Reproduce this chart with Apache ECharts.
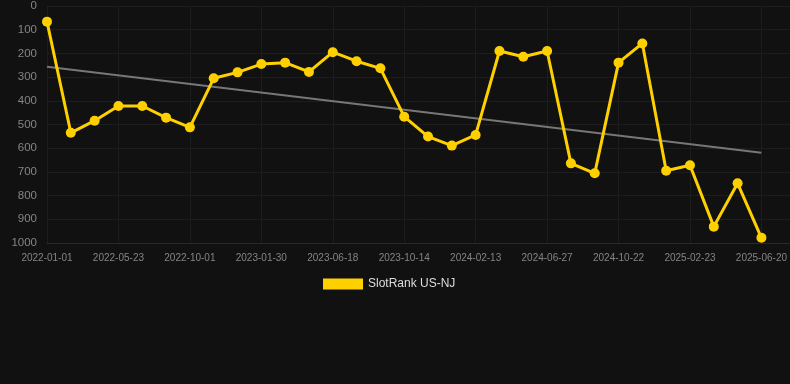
<!DOCTYPE html>
<html>
<head>
<meta charset="utf-8">
<script src="https://cdn.jsdelivr.net/npm/echarts@6/dist/echarts.min.js"></script>
<style>
html,body{margin:0;padding:0;background:#111111;}
#chart{width:790px;height:384px;}
</style>
</head>
<body>
<div id="chart"></div>
<script>
const dates = [
  '2022-01-01','2022-02-17','2022-04-06','2022-05-23','2022-07-06','2022-08-18',
  '2022-10-01','2022-11-10','2022-12-21','2023-01-30','2023-03-17','2023-05-03',
  '2023-06-18','2023-07-27','2023-09-04','2023-10-14','2023-11-24','2024-01-03',
  '2024-02-13','2024-03-29','2024-05-13','2024-06-27','2024-08-05','2024-09-13',
  '2024-10-22','2024-12-02','2025-01-13','2025-02-23','2025-04-03','2025-05-12',
  '2025-06-20'
];
const ranks = [
  66, 535, 484, 422, 422, 471, 512, 305, 280, 245, 239, 278, 195, 233, 263, 467,
  551, 589, 544, 190, 214, 190, 664, 706, 239, 158, 695, 672, 931, 748, 978
];
const trendStart = 256;
const trendEnd = 619;
const seriesName = 'SlotRank US-NJ';

const chart = echarts.init(document.getElementById('chart'), null, {renderer: 'canvas'});
const lastIdx = dates.length - 1;
chart.setOption({
  backgroundColor: '#111111',
  animation: false,
  grid: {left: 47, right: 0, top: 6, bottom: 141},
  legend: {
    data: [{name: seriesName, icon: 'rect'}],
    left: 318, top: 273,
    itemWidth: 40, itemHeight: 11, itemGap: 10,
    textStyle: {color: '#dddddd', fontSize: 12, fontFamily: 'Liberation Sans, Arial, sans-serif'}
  },
  xAxis: {
    type: 'value',
    min: 0,
    max: 31.2,
    interval: 3,
    axisLine: {show: true, onZero: false, lineStyle: {color: '#2a2a2a'}},
    axisTick: {show: false},
    splitLine: {show: true, lineStyle: {color: '#1d1d1d', width: 1}},
    axisLabel: {
      color: '#858585', fontSize: 10, margin: 10,
      fontFamily: 'Liberation Sans, Arial, sans-serif',
      showMaxLabel: false,
      formatter: function (v) {
        return (Number.isInteger(v) && v % 3 === 0 && v <= lastIdx) ? dates[v] : '';
      }
    }
  },
  yAxis: {
    type: 'value',
    inverse: true,
    min: 0, max: 1000, interval: 100,
    axisLine: {show: false},
    axisTick: {show: false},
    splitLine: {show: true, lineStyle: {color: '#1d1d1d', width: 1}},
    axisLabel: {
      color: '#858585', fontSize: 11.5, margin: 10,
      fontFamily: 'Liberation Sans, Arial, sans-serif',
      formatter: function (v) { return String(v); }
    }
  },
  series: [
    {
      name: 'trend',
      type: 'line',
      data: [[0, trendStart], [lastIdx, trendEnd]],
      symbol: 'none',
      lineStyle: {color: '#777777', width: 2},
      z: 1,
      silent: true
    },
    {
      name: seriesName,
      type: 'line',
      data: ranks.map((v, i) => [i, v]),
      symbol: 'circle',
      symbolSize: 10,
      itemStyle: {color: '#FFD000'},
      lineStyle: {color: '#FFD000', width: 3},
      z: 3
    }
  ]
});
</script>
</body>
</html>
